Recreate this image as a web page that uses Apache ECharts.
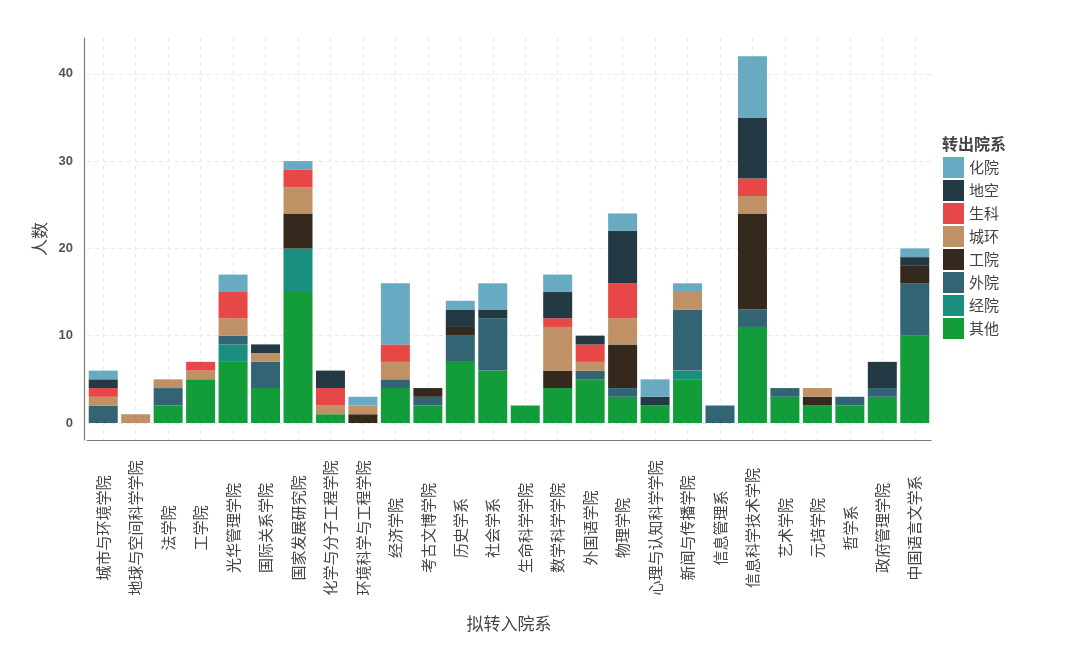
<!DOCTYPE html>
<html>
<head>
<meta charset="utf-8">
<script src="https://cdn.jsdelivr.net/npm/echarts@6/dist/echarts.min.js"></script>
<style>
html,body{margin:0;padding:0;background:#fff;}
#chart{width:1082px;height:665px;}
</style>
</head>
<body>
<div id="chart"></div>
<script>
const categories = ['城市与环境学院','地球与空间科学学院','法学院','工学院','光华管理学院','国际关系学院','国家发展研究院','化学与分子工程学院','环境科学与工程学院','经济学院','考古文博学院','历史学系','社会学系','生命科学学院','数学科学学院','外国语学院','物理学院','心理与认知科学学院','新闻与传播学院','信息管理系','信息科学技术学院','艺术学院','元培学院','哲学系','政府管理学院','中国语言文学系'];

const qita  = [0,0,2,5,7,4,15,1,0,4,2,7,6,2,4,5,3,2,5,0,11,3,2,2,3,10];
const jingyuan = [0,0,0,0,2,0,5,0,0,0,0,0,0,0,0,0,0,0,1,0,0,0,0,0,0,0];
const waiyuan = [2,0,2,0,1,3,0,0,0,1,1,3,6,0,0,1,1,0,7,2,2,1,0,1,1,6];
const gongyuan = [0,0,0,0,0,0,4,0,1,0,1,1,0,0,2,0,5,0,0,0,11,0,1,0,0,2];
const chenghuan = [1,1,1,1,2,1,3,1,1,2,0,0,0,0,5,1,3,0,2,0,2,0,1,0,0,0];
const shengke = [1,0,0,1,3,0,2,2,0,2,0,0,0,0,1,2,4,0,0,0,2,0,0,0,0,0];
const dikong = [1,0,0,0,0,1,0,2,0,0,0,2,1,0,3,1,6,1,0,0,7,0,0,0,3,1];
const huayuan = [1,0,0,0,2,0,1,0,1,7,0,1,3,0,2,0,2,2,1,0,7,0,0,0,0,1];

const seriesNames = ['其他','经院','外院','工院','城环','生科','地空','化院'];
const seriesData = [qita, jingyuan, waiyuan, gongyuan, chenghuan, shengke, dikong, huayuan];
const colors = ['#139d3a','#1b8f7f','#336474','#35291e','#c09164','#e84747','#233a44','#68aac1'];
const legendOrder = ['化院','地空','生科','城环','工院','外院','经院','其他'];
const yTicks = [0,10,20,30,40];

const chart = echarts.init(document.getElementById('chart'), null, {renderer:'canvas'});
const font = "'Noto Sans CJK SC', sans-serif";
chart.setOption({
  animation:false,
  backgroundColor:'#ffffff',
  title:{
    text:'转出院系', left:942, top:136, padding:0,
    textStyle:{fontFamily:font, fontSize:16, fontWeight:'bold', color:'#444'}
  },
  legend:{
    data:legendOrder, orient:'vertical', left:943, top:157, padding:0,
    itemWidth:21, itemHeight:21, itemGap:2, icon:'rect',
    textStyle:{fontFamily:font, fontSize:15, color:'#444'}
  },
  grid:{left:87, right:151, top:38, bottom:225, containLabel:false},
  xAxis:{
    type:'category', data:categories,
    axisLine:{show:true, onZero:false, lineStyle:{color:'#857a6d', width:1.2}},
    axisTick:{show:false},
    axisLabel:{rotate:90, interval:0, align:'center', verticalAlign:'middle', margin:88,
      fontFamily:font, fontSize:15, color:'#444'},
    splitLine:{show:true, alignWithLabel:true, lineStyle:{type:[4,4], color:'#ece8e1', width:1}},
    name:'拟转入院系', nameLocation:'middle', nameGap:175,
    nameTextStyle:{fontFamily:font, fontSize:17, color:'#444'}
  },
  yAxis:{
    type:'value', min:-1.95, max:44.1, offset:3,
    axisLine:{show:true, lineStyle:{color:'#857a6d', width:1.2}},
    axisTick:{show:false},
    axisLabel:{showMinLabel:false, showMaxLabel:false, margin:11,
      fontFamily:"'Liberation Sans', Arial, sans-serif", fontSize:13, fontWeight:'bold', color:'#555',
      formatter:v => yTicks.includes(v) ? String(v) : ''},
    splitLine:{show:true, showMinLine:false, showMaxLine:false, lineStyle:{type:[4,4], color:'#ece8e1', width:1}},
    name:'人数', nameLocation:'middle', nameGap:27, nameRotate:90,
    nameTextStyle:{fontFamily:font, fontSize:17, color:'#444'}
  },
  series: seriesNames.map((n,i)=>({
    name:n, type:'bar', stack:'total', data:seriesData[i],
    barWidth:29, itemStyle:{color:colors[i]},
    emphasis:{disabled:true}
  }))
});
</script>
</body>
</html>
